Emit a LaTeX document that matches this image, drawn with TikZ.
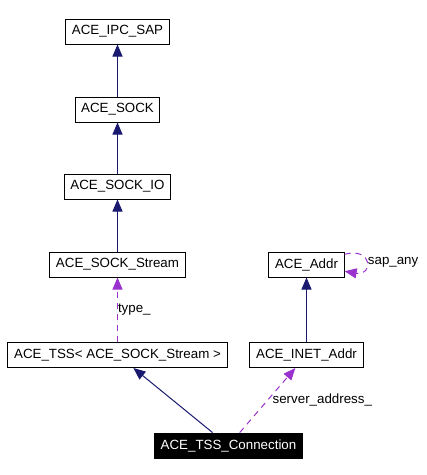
\documentclass[tikz,border=0pt]{standalone}
\usepackage{fontspec}
\setmainfont{Liberation Sans}
\usetikzlibrary{arrows.meta,positioning}
\definecolor{inherit}{HTML}{191970}
\definecolor{usage}{HTML}{9A32CD}

\begin{document}
\begin{tikzpicture}[node distance=58.5pt,on grid,
    cls/.style={draw,line width=0.75pt,font=\fontsize{10}{12}\selectfont,inner xsep=4.6pt,minimum height=18.75pt},
    focus/.style={cls,fill=black,text=white},
    isa/.style={draw=inherit,line width=0.75pt,-{Triangle[length=9pt,width=7.5pt]}},
    uses/.style={draw=usage,line width=0.75pt,dash pattern=on 4.5pt off 3.75pt,-{Triangle[length=9pt,width=7.5pt]}},
    lbl/.style={font=\fontsize{10}{12}\selectfont,inner sep=0pt}]
                \node[cls] (ipcsap) {ACE\_IPC\_SAP};
                \node[cls] (sock) [below=of ipcsap] {ACE\_SOCK};
                \node[cls] (sockio) [below=57.75pt of sock] {ACE\_SOCK\_IO};
                \node[cls] (stream) [below=of sockio] {ACE\_SOCK\_Stream};
                \node[cls] (tss) [below=67.9pt of stream] {ACE\_TSS< ACE\_SOCK\_Stream >};
                \node[cls] (addr) [right=141.75pt of stream] {ACE\_Addr};
                \node[cls] (inet) [below=67.9pt of addr] {ACE\_INET\_Addr};
                \node[focus] (conn) [below right=67.9pt and 83.25pt of tss] {ACE\_TSS\_Connection};
                \path
                (sock) edge [isa] (ipcsap)
                (sockio) edge [isa] (sock)
                (stream) edge [isa] (sockio)
                (conn) edge [isa] (tss)
                (inet) edge [isa] (addr)
                (tss) edge [uses] node [lbl,anchor=west,pos=0.5] {type\_} (stream)
                (conn) edge [uses] node [lbl,anchor=west,pos=0.5,xshift=3.5pt] {server\_address\_} (inet)
                (addr) edge [uses,out=15,in=-10,distance=22pt] node [lbl,anchor=west,xshift=1pt] {sap\_any} (addr);
                \useasboundingbox ([xshift=-88.125pt,yshift=23.625pt]ipcsap.center) rectangle ([xshift=232.125pt,yshift=-332.625pt]ipcsap.center);
            \end{tikzpicture}
\end{document}
